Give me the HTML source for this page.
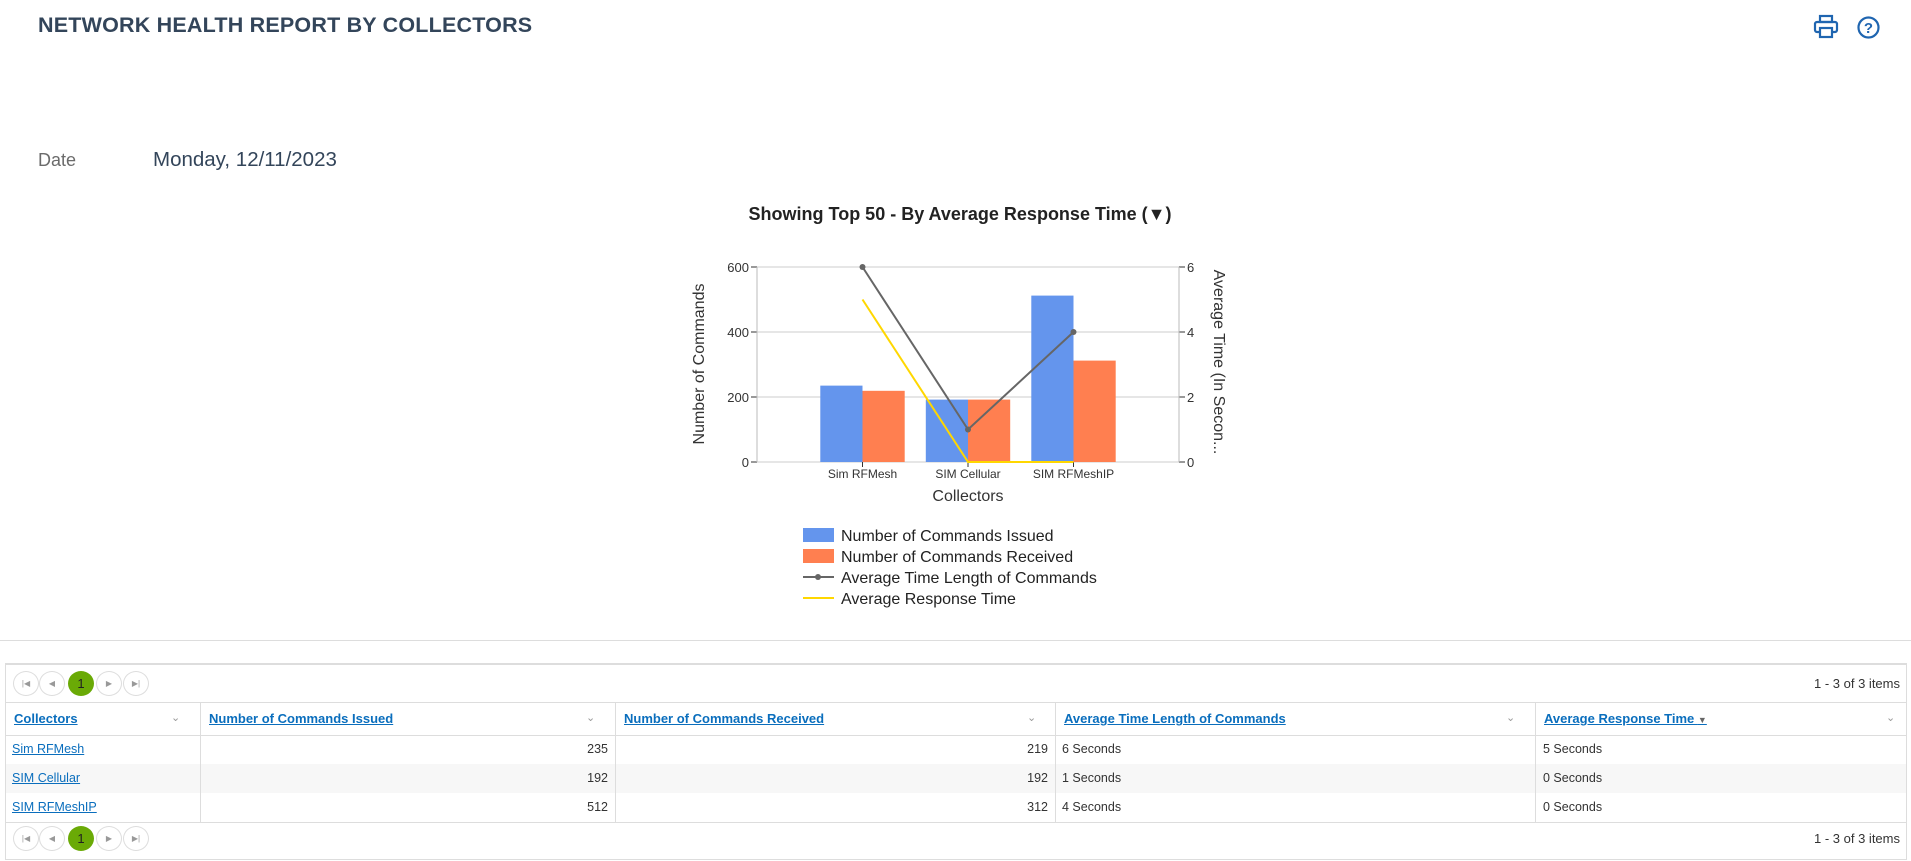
<!DOCTYPE html>
<html><head><meta charset="utf-8">
<style>
*{box-sizing:border-box;margin:0;padding:0}
body{width:1911px;height:861px;background:#fff;font-family:"Liberation Sans",sans-serif;position:relative;overflow:hidden;color:#333}
.abs{position:absolute}
#title{left:38px;top:13px;font-size:21.5px;font-weight:bold;color:#33455a;letter-spacing:0.2px;white-space:nowrap}
#date-label{left:38px;top:150px;font-size:18px;color:#6b6b6b}
#date-value{left:153px;top:148px;font-size:20.5px;color:#33455a}
#sep{left:0;top:640px;width:1911px;height:1px;background:#ddd}
.pager{left:5px;width:1902px;height:38px}
.pbtn{position:absolute;top:6px;width:26px;height:25px;border:1px solid #ddd;border-radius:50%;font-size:8px;color:#999;text-align:center;line-height:23px;background:#fff}
.pbtn.on{background:#6aaa06;border-color:#6aaa06;color:#222;font-size:13px}
.pinfo{position:absolute;right:7px;top:11px;font-size:13px;color:#333}
.hd{position:absolute;top:702px;height:33px;font-size:13px;font-weight:bold;color:#0a6ebd;text-decoration:underline;line-height:33px;padding-left:7px;white-space:nowrap}
.chev{position:absolute;top:702px;line-height:33px;font-size:11px;color:#999}
.cell{position:absolute;height:29px;line-height:29px;font-size:12.5px;white-space:nowrap}
.lnk{color:#0a6ebd;text-decoration:underline}
</style></head><body>
<div id="title" class="abs">NETWORK HEALTH REPORT BY COLLECTORS</div>
<svg class="abs" style="left:1813px;top:14px" width="26" height="26" viewBox="0 0 26 26"><g fill="none" stroke="#1f65b0" stroke-width="2.2"><rect x="7" y="2" width="12" height="6"/><rect x="2" y="8" width="22" height="10" rx="2"/><rect x="7" y="14" width="12" height="9" fill="#fff"/></g></svg>
<svg class="abs" style="left:1857px;top:16px" width="23" height="23" viewBox="0 0 23 23"><circle cx="11.5" cy="11.5" r="10" fill="none" stroke="#1f65b0" stroke-width="2.2"/><text x="11.5" y="17" text-anchor="middle" font-size="15" font-weight="bold" fill="#1f65b0" font-family="Liberation Sans, sans-serif">?</text></svg>
<div id="date-label" class="abs">Date</div>
<div id="date-value" class="abs">Monday, 12/11/2023</div>

<svg id="chart" class="abs" style="left:0;top:190px" width="1911" height="430"></svg>

<div id="sep" class="abs"></div>

<div class="abs" style="left:5px;top:663px;width:1902px;height:197px;border-top:2px solid #ddd;border-bottom:1px solid #ddd;border-left:1px solid #ddd;border-right:1px solid #ddd"></div>
<div class="abs" style="left:5px;top:702px;width:1902px;height:1px;background:#ddd"></div>
<div class="abs" style="left:5px;top:735px;width:1902px;height:1px;background:#ddd"></div>
<div class="abs" style="left:5px;top:822px;width:1902px;height:1px;background:#ddd"></div>
<div class="abs" style="left:6px;top:764px;width:1900px;height:29px;background:#f7f7f7"></div>
<div class="abs" style="left:200px;top:702px;width:1px;height:120px;background:#ddd"></div>
<div class="abs" style="left:615px;top:702px;width:1px;height:120px;background:#ddd"></div>
<div class="abs" style="left:1055px;top:702px;width:1px;height:120px;background:#ddd"></div>
<div class="abs" style="left:1535px;top:702px;width:1px;height:120px;background:#ddd"></div>

<div class="abs pager" style="top:665px">
<div class="pbtn" style="left:8px">|◀</div>
<div class="pbtn" style="left:34px">◀</div>
<div class="pbtn on" style="left:63px">1</div>
<div class="pbtn" style="left:91px">▶</div>
<div class="pbtn" style="left:118px">▶|</div>
<div class="pinfo">1 - 3 of 3 items</div>
</div>
<div class="abs pager" style="top:820px">
<div class="pbtn" style="left:8px">|◀</div>
<div class="pbtn" style="left:34px">◀</div>
<div class="pbtn on" style="left:63px">1</div>
<div class="pbtn" style="left:91px">▶</div>
<div class="pbtn" style="left:118px">▶|</div>
<div class="pinfo">1 - 3 of 3 items</div>
</div>

<div class="hd" style="left:7px">Collectors</div>
<div class="chev" style="left:171px">&#8964;</div>
<div class="hd" style="left:202px">Number of Commands Issued</div>
<div class="chev" style="left:586px">&#8964;</div>
<div class="hd" style="left:617px">Number of Commands Received</div>
<div class="chev" style="left:1027px">&#8964;</div>
<div class="hd" style="left:1057px">Average Time Length of Commands</div>
<div class="chev" style="left:1506px">&#8964;</div>
<div class="hd" style="left:1537px">Average Response Time <span style="text-decoration:none;font-size:9px;color:#666">▼</span></div>
<div class="chev" style="left:1886px">&#8964;</div>

<div id="rows"></div>

<script>
const categories = ["Sim RFMesh", "SIM Cellular", "SIM RFMeshIP"];
const issued = [235, 192, 512];
const received = [219, 192, 312];
const avgTimeLength = [6, 1, 4];
const avgResponse = [5, 0, 0];
const leftTicks = [0, 200, 400, 600];
const rightTicks = [0, 2, 4, 6];

const NS = "http://www.w3.org/2000/svg";
const svg = document.getElementById("chart");
const X0 = 757, X1 = 1179, YT = 77, YB = 272;
const yL = v => YB - (v / 600) * (YB - YT);
const yR = v => YB - (v / 6) * (YB - YT);
const slot = (X1 - X0) / (categories.length + 1);
const xc = i => X0 + slot * (i + 1);
const bw = slot * 0.4;
function el(tag, attrs, text) {
  const e = document.createElementNS(NS, tag);
  for (const k in attrs) e.setAttribute(k, attrs[k]);
  if (text !== undefined) e.textContent = text;
  svg.appendChild(e);
  return e;
}
const F = "Liberation Sans, sans-serif";
let t = el("text", {x: 960, y: 30, "text-anchor": "middle", "font-size": 18, "font-weight": "bold", fill: "#222", "font-family": F}, "Showing Top 50 - By Average Response Time (▼)");



leftTicks.forEach(v => {
  const g = el("line", {x1: X0, x2: X1, y1: yL(v), y2: yL(v), stroke: "#ccc", "stroke-width": 1});
  
  
  el("line", {x1: X0 - 6, x2: X0, y1: yL(v), y2: yL(v), stroke: "#333", "stroke-width": 1});
  const l = el("text", {x: X0 - 8, y: yL(v) + 5, "text-anchor": "end", "font-size": 13, fill: "#333", "font-family": F}, v);
  
  
});
rightTicks.forEach(v => {
  el("line", {x1: X1, x2: X1 + 6, y1: yR(v), y2: yR(v), stroke: "#333", "stroke-width": 1});
  const l = el("text", {x: X1 + 8, y: yR(v) + 5, "font-size": 13, fill: "#333", "font-family": F}, v);
  
  
});
el("line", {x1: X0, x2: X0, y1: YT, y2: YB, stroke: "#bbb"});
el("line", {x1: X1, x2: X1, y1: YT, y2: YB, stroke: "#bbb"});

categories.forEach((c, i) => {
  const b1 = el("rect", {x: xc(i) - bw, y: yL(issued[i]), width: bw, height: YB - yL(issued[i]), fill: "#6495ED"});
  
  
  const b2 = el("rect", {x: xc(i), y: yL(received[i]), width: bw, height: YB - yL(received[i]), fill: "#FF7F50"});
  
  
  el("line", {x1: xc(i), x2: xc(i), y1: YB, y2: YB + 5, stroke: "#333"});
  const cl = el("text", {x: xc(i), y: YB + 16, "text-anchor": "middle", "font-size": 12, fill: "#333", "font-family": F}, c);
  
  
});

const yp = avgResponse.map((v, i) => xc(i) + "," + yR(v)).join(" ");
const yl = el("polyline", {points: yp, fill: "none", stroke: "#FFD700", "stroke-width": 2});


const gp = avgTimeLength.map((v, i) => xc(i) + "," + yR(v)).join(" ");
const gl = el("polyline", {points: gp, fill: "none", stroke: "#666", "stroke-width": 2});


avgTimeLength.forEach((v, i) => {
  const p = el("circle", {cx: xc(i), cy: yR(v), r: 3, fill: "#666"});
  
  
});

let a = el("text", {x: 0, y: 0, transform: "translate(704,174) rotate(-90)", "text-anchor": "middle", "font-size": 16, fill: "#333", "font-family": F}, "Number of Commands");


a = el("text", {x: 0, y: 0, transform: "translate(1214,172) rotate(90)", "text-anchor": "middle", "font-size": 16, fill: "#333", "font-family": F}, "Average Time (In Secon...");


a = el("text", {x: 968, y: 311, "text-anchor": "middle", "font-size": 16, fill: "#333", "font-family": F}, "Collectors");



const legendNames = ["Number of Commands Issued", "Number of Commands Received", "Average Time Length of Commands", "Average Response Time"];
legendNames.forEach((n, i) => {
  const cy = 345 + i * 21;
  if (i === 0) el("rect", {x: 803, y: cy - 7, width: 31, height: 14, fill: "#6495ED"});
  if (i === 1) el("rect", {x: 803, y: cy - 7, width: 31, height: 14, fill: "#FF7F50"});
  if (i === 2) { el("line", {x1: 803, x2: 834, y1: cy, y2: cy, stroke: "#666", "stroke-width": 2}); el("circle", {cx: 818, cy: cy, r: 3, fill: "#666"}); }
  if (i === 3) el("line", {x1: 803, x2: 834, y1: cy, y2: cy, stroke: "#FFD700", "stroke-width": 2});
  const lt = el("text", {x: 841, y: cy + 6, "font-size": 16, fill: "#222", "font-family": F}, n);
  
  
});

const rows = document.getElementById("rows");
categories.forEach((c, i) => {
  const top = 735 + i * 29;
  const cells = [
    [`<span class="lnk">${c}</span>`, "left:12px", "collector-name-cell", "true"],
    [issued[i], "left:201px;width:407px;text-align:right", "issued-cell", "false"],
    [received[i], "left:616px;width:432px;text-align:right", "received-cell", "false"],
    [avgTimeLength[i] + " Seconds", "left:1062px", "avg-time-length-cell", "false"],
    [avgResponse[i] + " Seconds", "left:1543px", "avg-response-cell", "false"]
  ];
  cells.forEach(cd => {
    const d = document.createElement("div");
    d.className = "cell";
    d.style.cssText = cd[1] + ";top:" + top + "px";
    d.innerHTML = cd[0];
    
    
    rows.appendChild(d);
  });
});
</script>
</body></html>
